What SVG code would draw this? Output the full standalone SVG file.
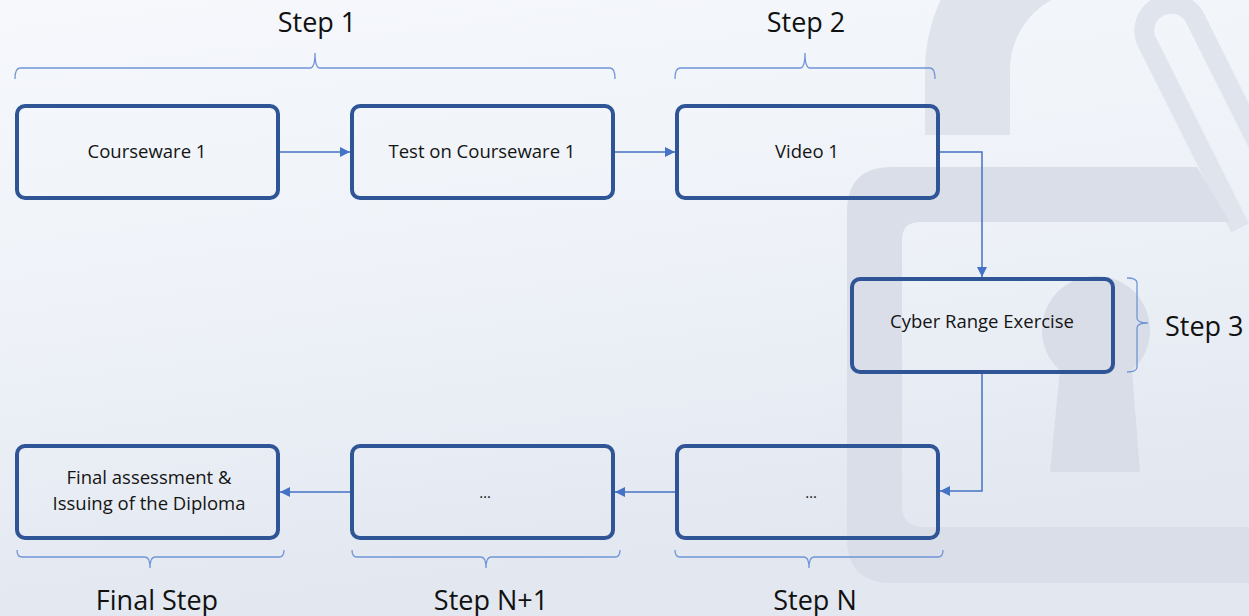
<svg xmlns="http://www.w3.org/2000/svg" width="1249" height="616" viewBox="0 0 1249 616">
  <defs>
    <linearGradient id="bg" x1="0" y1="0" x2="0.25" y2="1">
      <stop offset="0" stop-color="#f6f8fc"/>
      <stop offset="0.5" stop-color="#eef2f8"/>
      <stop offset="1" stop-color="#e2e7f0"/>
    </linearGradient>
    <marker id="arrow" viewBox="0 0 10 10" refX="10" refY="5" markerWidth="10" markerHeight="10" markerUnits="userSpaceOnUse" orient="auto">
      <path d="M0,0 L10,5 L0,10 z" fill="#4472c4"/>
    </marker>
    <style>
      .box { fill: none; stroke: #2f5597; stroke-width: 4; }
      .lbl { font-family: "Open Sans", "Liberation Sans", sans-serif; font-size: 18.5px; fill: #141414; text-anchor: middle; }
      .dots { font-family: "Open Sans", "Liberation Sans", sans-serif; font-size: 15px; fill: #141414; text-anchor: middle; }
      .step { font-family: "Open Sans", "Liberation Sans", sans-serif; font-size: 27px; fill: #111111; text-anchor: middle; }
      .conn { fill: none; stroke: #4472c4; stroke-width: 1.5; }
      .brace { fill: none; stroke: #6f95d6; stroke-width: 1.3; }
      .wm { fill: #d9dee9; }
    </style>
  </defs>

  <!-- background -->
  <rect x="0" y="0" width="1249" height="616" fill="url(#bg)"/>

  <!-- watermark padlock -->
  <g id="watermark">
    <path d="M967.5,135 L967.5,70 A122.5,122.5 0 0 1 1090,-52.5" fill="none" stroke="#dfe3ec" stroke-width="85"/>
    <path d="M1240,228 L1146,40 A27,27 0 0 1 1194,16 L1310,248" fill="none" stroke="#e0e4ed" stroke-width="20"/>
    <path class="wm" fill-rule="evenodd" d="M847,212 Q847,167 892,167 L1197,167 L1230,222 L920,222 Q902,222 902,240 L902,505 Q902,527 924,527 L1249,527 L1249,583 L892,583 Q847,583 847,538 Z"/>
    <circle cx="1096" cy="330" r="54" fill="#d8dde8"/>
    <path d="M1060,370 L1132,370 L1140,472 L1050,472 Z" fill="#d8dde8"/>
  </g>

  <!-- brackets -->
  <g id="brackets">
    <path class="brace" d="M15,79 Q15,68 20,68 L310,68 Q315,68 315,53 Q315,68 320,68 L610,68 Q615,68 615,79"/>
    <path class="brace" d="M675,79 Q675,68 680,68 L800,68 Q805,68 805,53 Q805,68 810,68 L930,68 Q935,68 935,79"/>
    <path class="brace" d="M1127,278 Q1137,278 1137,283 L1137,318 Q1137,323 1148,323 Q1137,323 1137,328 L1137,367 Q1137,372 1127,372"/>
    <path class="brace" d="M17,550 Q17,557 22,557 L145,557 Q150,557 150,568 Q150,557 155,557 L279,557 Q284,557 284,550"/>
    <path class="brace" d="M352,550 Q352,557 357,557 L481,557 Q486,557 486,568 Q486,557 491,557 L615,557 Q620,557 620,550"/>
    <path class="brace" d="M675,550 Q675,557 680,557 L804,557 Q809,557 809,568 Q809,557 814,557 L938,557 Q943,557 943,550"/>
  </g>

  <!-- step labels -->
  <g id="step-labels">
    <text class="step" x="317" y="32">Step 1</text>
    <text class="step" x="806" y="32">Step 2</text>
    <text class="step" x="1165" y="336" style="text-anchor:start">Step 3</text>
    <text class="step" x="157" y="610">Final Step</text>
    <text class="step" x="491" y="610">Step N+1</text>
    <text class="step" x="815" y="610">Step N</text>
  </g>

  <!-- connectors -->
  <g id="connectors">
    <path class="conn" d="M280,152 L350,152" marker-end="url(#arrow)"/>
    <path class="conn" d="M615,152 L675,152" marker-end="url(#arrow)"/>
    <path class="conn" d="M940,152 L982,152 L982,277" marker-end="url(#arrow)"/>
    <path class="conn" d="M982,374 L982,491 L940,491" marker-end="url(#arrow)"/>
    <path class="conn" d="M675,492 L615,492" marker-end="url(#arrow)"/>
    <path class="conn" d="M350,492 L280,492" marker-end="url(#arrow)"/>
  </g>

  <!-- nodes -->
  <g id="node-courseware1">
    <rect class="box" x="17" y="106" width="261" height="92" rx="8"/>
    <text class="lbl" x="147" y="158">Courseware 1</text>
  </g>
  <g id="node-test1">
    <rect class="box" x="352" y="106" width="261" height="92" rx="8"/>
    <text class="lbl" x="482" y="158">Test on Courseware 1</text>
  </g>
  <g id="node-video1">
    <rect class="box" x="677" y="106" width="261" height="92" rx="8"/>
    <text class="lbl" x="807" y="158">Video 1</text>
  </g>
  <g id="node-cyber">
    <rect class="box" x="852" y="279" width="261" height="93" rx="8"/>
    <text class="lbl" x="982" y="328">Cyber Range Exercise</text>
  </g>
  <g id="node-stepN">
    <rect class="box" x="677" y="446" width="261" height="92" rx="8"/>
    <text class="dots" x="811" y="498">…</text>
  </g>
  <g id="node-stepN1">
    <rect class="box" x="352" y="446" width="261" height="92" rx="8"/>
    <text class="dots" x="485" y="498">…</text>
  </g>
  <g id="node-final">
    <rect class="box" x="17" y="446" width="261" height="92" rx="8"/>
    <text class="lbl" x="149" y="484">Final assessment &amp;</text>
    <text class="lbl" x="149" y="510">Issuing of the Diploma</text>
  </g>
</svg>
